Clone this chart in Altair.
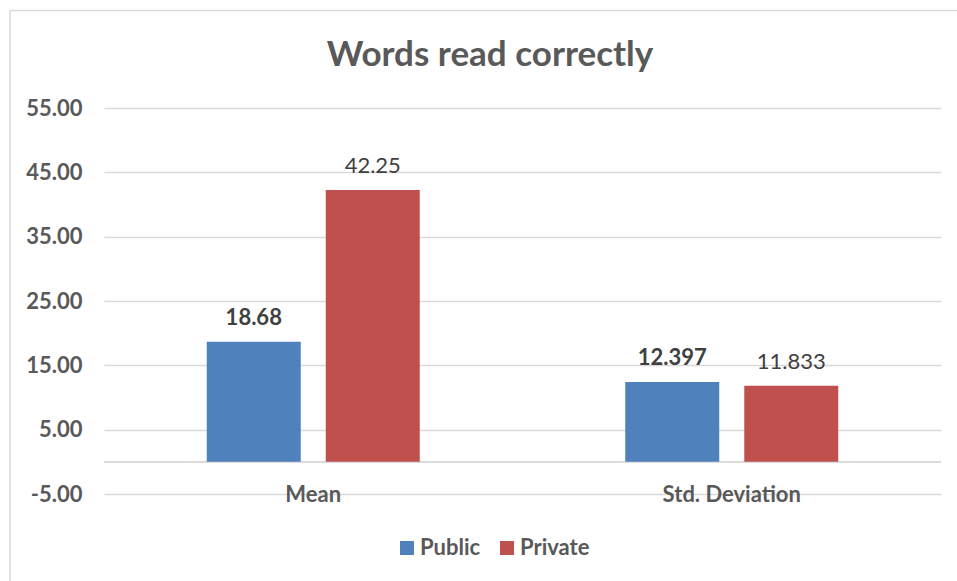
import altair as alt
import pandas as pd

# Source values
categories = ["Mean", "Std. Deviation"]
series = ["Public", "Private"]
public_values = [18.68, 12.397]
private_values = [42.25, 11.833]
public_labels = ["18.68", "12.397"]
private_labels = ["42.25", "11.833"]
y_ticks = [-5, 5, 15, 25, 35, 45, 55]
title_text = "Words read correctly"

colors = ["#4F81BD", "#C0504D"]
FONT = "Lato"
FS = 22
AXIS_GREY = "#595959"
LABEL_GREY = "#404040"
GRID = "#D9D9D9"

rows = []
for c, v, l in zip(categories, public_values, public_labels):
    rows.append({"category": c, "series": "Public", "value": v, "label": l})
for c, v, l in zip(categories, private_values, private_labels):
    rows.append({"category": c, "series": "Private", "value": v, "label": l})
df = pd.DataFrame(rows)

W, H = 837, 386
PAD_L, PAD_T = 104, 108

x_enc = alt.X(
    "category:N",
    sort=categories,
    scale=alt.Scale(paddingInner=0, paddingOuter=0),
    axis=alt.Axis(
        title=None, domain=False, ticks=False, tickSize=0, grid=False,
        labelAngle=0, labelBaseline="middle", labelPadding=0,
        labelFont=FONT, labelFontSize=FS, labelFontWeight="bold",
        labelColor=AXIS_GREY,
    ),
)
x_off = alt.XOffset(
    "series:N", sort=series,
    scale=alt.Scale(paddingInner=0.21, paddingOuter=0.8634),
)
y_enc = alt.Y(
    "value:Q",
    scale=alt.Scale(domain=[-5, 55], nice=False, zero=False),
    axis=alt.Axis(
        title=None, values=y_ticks, domain=False, ticks=False, grid=True,
        labelExpr="replace(format(datum.value, '.2f'), '\u2212', '-')",
        labelFont=FONT, labelFontSize=FS, labelFontWeight="bold",
        labelColor=AXIS_GREY, labelPadding=22,
        gridColor=GRID, gridWidth=1.5,
    ),
)

base = alt.Chart(df)

zero_line = base.mark_rule(color=GRID, strokeWidth=1.5).encode(
    y=alt.datum(0, type="quantitative")
)

bars = base.mark_bar(size=94).encode(
    x=x_enc,
    xOffset=x_off,
    y=y_enc,
    color=alt.Color(
        "series:N",
        sort=series,
        scale=alt.Scale(domain=series, range=colors),
        legend=alt.Legend(
            title=None, orient="none", direction="horizontal",
            legendX=292, legendY=429,
            symbolType="square", symbolSize=196, symbolStrokeWidth=0,
            labelFont=FONT, labelFontSize=FS, labelFontWeight="bold",
            labelColor=AXIS_GREY, labelOffset=2, columnPadding=15,
        ),
    ),
)

labels_public = base.transform_filter(alt.datum.series == "Public").mark_text(
    font=FONT, fontSize=FS, fontWeight="bold", color=LABEL_GREY,
    baseline="alphabetic", dy=-17,
).encode(x=x_enc, xOffset=x_off, y=y_enc, text="label:N")

labels_private = base.transform_filter(alt.datum.series == "Private").mark_text(
    font=FONT, fontSize=FS, fontWeight="normal", color=LABEL_GREY,
    baseline="alphabetic", dy=-17,
).encode(x=x_enc, xOffset=x_off, y=y_enc, text="label:N")

title = alt.Chart(pd.DataFrame({"t": [title_text]})).mark_text(
    font=FONT, fontSize=35, fontWeight="bold", color=AXIS_GREY,
    align="center", baseline="alphabetic",
).encode(text="t:N", x=alt.value(490 - PAD_L), y=alt.value(66 - PAD_T))

# light frame along the top and left edge of the chart area
frame_data = alt.Chart(pd.DataFrame({"k": [0]}))
frame_top = frame_data.mark_rule(color=GRID, strokeWidth=1.5).encode(
    x=alt.value(10 - PAD_L), x2=alt.value(957 - PAD_L),
    y=alt.value(10.5 - PAD_T),
)
frame_left = frame_data.mark_rule(color=GRID, strokeWidth=1.5).encode(
    x=alt.value(10 - PAD_L),
    y=alt.value(10 - PAD_T), y2=alt.value(581 - PAD_T),
)

chart = alt.layer(
    zero_line, bars, labels_public, labels_private, title, frame_top, frame_left
).properties(
    width=W, height=H,
    autosize=alt.AutoSizeParams(type="none"),
    padding={"left": PAD_L, "top": PAD_T, "right": 957 - PAD_L - W, "bottom": 581 - PAD_T - H},
    background="white",
).configure_view(stroke=None)

chart.save("out.html", embed_options={"renderer": "svg", "actions": False})
